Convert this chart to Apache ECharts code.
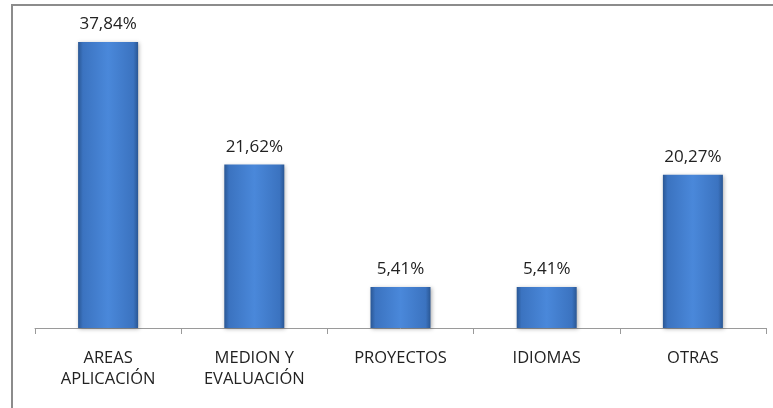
<!DOCTYPE html>
<html>
<head>
<meta charset="utf-8">
<script src="https://cdn.jsdelivr.net/npm/echarts@6/dist/echarts.min.js"></script>
<style>
  html, body { margin: 0; padding: 0; background: #fff; }
  #chart { width: 773px; height: 408px; }
</style>
</head>
<body>
<div id="chart"></div>
<script>
// categories and percentages
const categories = ['AREAS\nAPLICACIÓN', 'MEDION Y\nEVALUACIÓN', 'PROYECTOS', 'IDIOMAS', 'OTRAS'];
const percents = [37.84, 21.62, 5.41, 5.41, 20.27];

const chart = echarts.init(document.getElementById('chart'), null, { renderer: 'canvas' });

const barFill = new echarts.graphic.LinearGradient(0, 0, 1, 0, [
  { offset: 0, color: '#2a5794' },
  { offset: 0.08, color: '#3b73c0' },
  { offset: 0.5, color: '#4a88da' },
  { offset: 0.92, color: '#3b73c0' },
  { offset: 1, color: '#2a5794' }
]);

chart.setOption({
  animation: false,
  backgroundColor: '#fff',
  textStyle: { fontFamily: 'Open Sans, sans-serif' },
  graphic: [{
    type: 'rect',
    shape: { x: 12, y: 5, width: 800, height: 500 },
    style: { fill: 'none', stroke: '#8c8c8c', lineWidth: 2 },
    silent: true
  }],
  grid: { left: 35, right: 7, top: 25.6, bottom: 80 },
  xAxis: {
    type: 'category',
    data: categories,
    axisLine: { lineStyle: { color: '#9a9a9a', width: 1 } },
    axisTick: { show: true, length: 6, lineStyle: { color: '#9a9a9a' } },
    axisLabel: { color: '#222', fontSize: 16.5, lineHeight: 21, margin: 20 }
  },
  yAxis: {
    type: 'value',
    min: 0,
    max: 40,
    show: false,
    splitLine: { show: false }
  },
  series: [{
    type: 'bar',
    data: percents,
    barWidth: 60,
    itemStyle: {
      color: barFill,
      shadowColor: 'rgba(0,0,0,0.3)',
      shadowBlur: 4,
      shadowOffsetX: 1,
      shadowOffsetY: 1
    },
    label: {
      show: true,
      position: 'top',
      distance: 9,
      color: '#222',
      fontSize: 17,
      formatter: p => p.value.toFixed(2).replace('.', ',') + '%'
    }
  }]
});
</script>
</body>
</html>
